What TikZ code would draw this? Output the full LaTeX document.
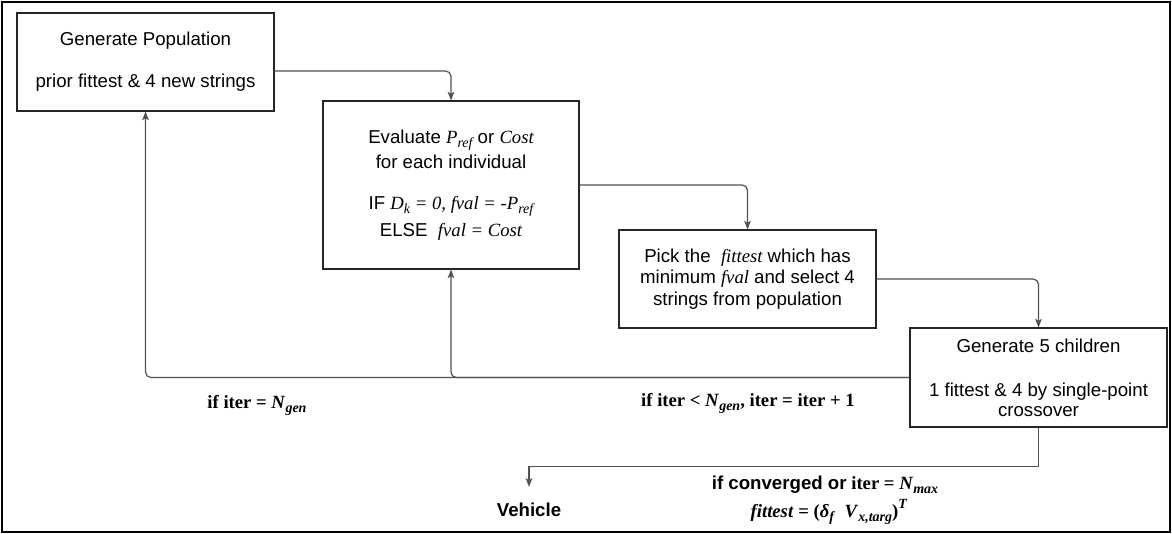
\documentclass[tikz,border=0pt]{standalone}
\usepackage{fontspec}
\setmainfont{Liberation Serif}
\setsansfont{Liberation Sans}
\usetikzlibrary{arrows.meta,calc}
\newcommand\lowsub[1]{\raisebox{-0.45ex}{\fontsize{10.5pt}{11pt}\selectfont #1}}
\newcommand\highsup[1]{\raisebox{1.0ex}{\fontsize{10.5pt}{11pt}\selectfont #1}}
\begin{document}
\begin{tikzpicture}[x=0.75pt,y=-0.75pt,
  box/.style={draw=black!85, line width=0.8pt, rectangle, inner sep=0pt, align=center,
    font=\sffamily\fontsize{14pt}{16pt}\selectfont},
  conn/.style={draw=black!68, line width=0.9pt, rounded corners=4pt,
    -{Stealth[length=6.5pt,width=5pt,inset=1.5pt]}},
  lbl/.style={inner sep=0pt, font=\rmfamily\bfseries\fontsize{14pt}{16pt}\selectfont},
  vlbl/.style={inner sep=0pt, font=\sffamily\bfseries\fontsize{14pt}{16pt}\selectfont}
]
\path[use as bounding box] (0,0) rectangle (1172,534);
\draw[line width=2pt] (2,2) rectangle (1170,532);

\node[box, minimum width=192.75pt, minimum height=73.5pt] (A) at (145.5,62)
  {Generate Population\\[15.5pt]prior fittest \& 4 new strings};
\node[box, minimum width=192pt, minimum height=126pt] (B) at (451,185)
  {Evaluate {\rmfamily\itshape P\lowsub{ref}} or {\rmfamily\itshape Cost}\\[2.5pt]
   for each individual\\[15pt]
   IF {\rmfamily\itshape D\lowsub{k} = 0, fval = -P\lowsub{ref}}\\[4pt]
   ELSE\ \ {\rmfamily\itshape fval = Cost}};
\node[box, minimum width=192.75pt, minimum height=73.5pt] (C) at (747.5,279)
  {Pick the\ \ {\rmfamily\itshape fittest} which has\\
   minimum {\rmfamily\itshape fval} and select 4\\
   strings from population};
\node[box, minimum width=192.75pt, minimum height=74.25pt] (D) at (1038.5,377.5)
  {Generate 5 children\\[17pt]1 fittest \& 4 by single-point\\[-1pt]crossover};

\node[lbl] (L1) at (257,405) {if iter = \textit{N}\lowsub{\textit{gen}}};
\node[lbl] (L2) at (748,403) {if iter < \textit{N}\lowsub{\textit{gen}}, iter = iter + 1};
\node[lbl] (L3) at (825,485) {{\sffamily if converged or} iter = \textit{N}\lowsub{\textit{max}}};
\node[lbl] (L4) at (829,512) {\textit{fittest} = (\textit{δ}\lowsub{\textit{f}}\ \ \textit{V}\lowsub{\textit{x,targ}})\highsup{\textit{T}}};
\node[vlbl] (veh) at (529,510) {Vehicle};

\draw[conn] ($(A.east)+(0,9)$) -| (B.north);
\draw[conn] (B.east) -| (C.north);
\draw[conn] (C.east) -| (D.north);
\draw[conn] (D.west) -| (A.south);
\draw[conn] (D.west) -| (B.south);
\draw[conn, rounded corners=0pt] (D.south) -- ($(D.south)+(0,39)$) -| ($(veh.north)+(0,-16)$);
\end{tikzpicture}
\end{document}
